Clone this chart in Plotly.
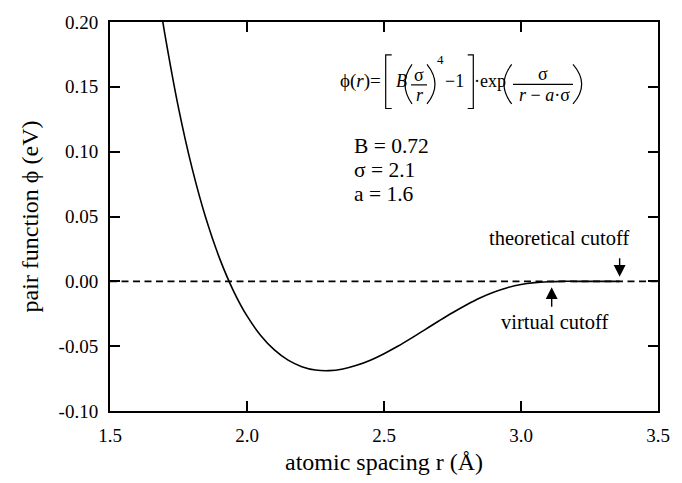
import plotly.graph_objects as go

# ---- data ----
r_values = [1.69, 1.70, 1.75, 1.80, 1.85, 1.90, 1.95, 2.00, 2.05, 2.10, 2.15, 2.20,
            2.25, 2.30, 2.35, 2.40, 2.45, 2.50, 2.55, 2.60, 2.65, 2.70, 2.75, 2.80,
            2.85, 2.90, 2.95, 3.00, 3.05, 3.10, 3.15, 3.20, 3.36]
phi_values = [0.2038, 0.1909, 0.1338, 0.0869, 0.0486, 0.0177, -0.0071, -0.0267,
              -0.0417, -0.0529, -0.0608, -0.0658, -0.0684, -0.0689, -0.0676, -0.0648,
              -0.0608, -0.0558, -0.0501, -0.0438, -0.0372, -0.0306, -0.0242, -0.0182,
              -0.0128, -0.0084, -0.0049, -0.0024, -0.0010, -0.0003, 0.0000, 0.0000, 0.0000]
zero_x = [1.5, 3.5]
zero_y = [0.0, 0.0]

x_tickvals = [1.5, 2.0, 2.5, 3.0, 3.5]
x_ticktext = ["1.5", "2.0", "2.5", "3.0", "3.5"]
y_tickvals = [-0.10, -0.05, 0.00, 0.05, 0.10, 0.15, 0.20]
y_ticktext = ["-0.10", "-0.05", "0.00", "0.05", "0.10", "0.15", "0.20"]

params = ["B = 0.72", "σ = 2.1", "a = 1.6"]
theoretical_cutoff = 3.36
virtual_cutoff = 3.112

FONT = "Liberation Serif"

# ---- layout geometry ----
W, H = 682, 483
L, R, T, B = 110, 24, 16, 68
PW, PH = W - L - R, H - T - B


def px(x):
    return (x - L) / PW


def py(y):
    return (H - B - y) / PH


fig = go.Figure()
fig.add_trace(go.Scatter(x=zero_x, y=zero_y, mode="lines",
                         line=dict(color="black", width=1.8, dash="7px,4.5px"),
                         hoverinfo="skip", showlegend=False))
fig.add_trace(go.Scatter(x=r_values, y=phi_values, mode="lines",
                         line=dict(color="black", width=1.6, shape="spline"),
                         showlegend=False))

annotations = []


def txt(s, x, y, size=16, xanchor="center"):
    annotations.append(dict(text=s, x=px(x), y=py(y), xref="paper", yref="paper",
                            xanchor=xanchor, yanchor="middle", showarrow=False,
                            font=dict(family=FONT, size=size, color="black")))


# formula
txt("ϕ(<i>r</i>)=", 360.5, 76.5, 19)
txt("<i>B</i>", 401, 77, 18)
txt("σ", 419, 70, 18)
txt("<i>r</i>", 419.5, 91, 18)
txt("4", 440.5, 54, 13)
txt("−1", 454, 77, 18)
txt("·exp", 490, 77, 18)
txt("σ", 542.5, 69, 18)
txt("<i>r</i> − <i>a</i>·σ", 544, 91, 18)

# parameters
for i, s in enumerate(params):
    txt(s, 352, 143 + i * 24.5, 21.5, xanchor="left")

# cutoff labels
txt("theoretical cutoff", 559, 237.5, 20.5)
txt("virtual cutoff", 554, 324, 20.5)

# arrows
annotations.append(dict(x=theoretical_cutoff, y=0.0035, xref="x", yref="y", ax=0, ay=-20,
                        text="", showarrow=True, arrowhead=2, arrowsize=1.7,
                        arrowwidth=1.4, arrowcolor="black"))
annotations.append(dict(x=virtual_cutoff, y=-0.0045, xref="x", yref="y", ax=0, ay=21,
                        text="", showarrow=True, arrowhead=2, arrowsize=1.7,
                        arrowwidth=1.4, arrowcolor="black"))

shapes = []


def path(d):
    shapes.append(dict(type="path", path=d, xref="paper", yref="paper",
                       line=dict(color="black", width=1.2)))


def P(x, y):
    return f"{px(x):.5f},{py(y):.5f}"


# brackets
path(f"M {P(391.7, 49.7)} L {P(385.7, 49.7)} L {P(385.7, 104.7)} L {P(391.7, 104.7)}")
path(f"M {P(467.7, 49.7)} L {P(473.3, 49.7)} L {P(473.3, 104.7)} L {P(467.7, 104.7)}")
# parentheses
path(f"M {P(412, 59.5)} Q {P(398, 80)} {P(412, 100)}")
path(f"M {P(427, 59.5)} Q {P(443, 80)} {P(427, 100)}")
path(f"M {P(511.7, 59.5)} Q {P(496.3, 80)} {P(511.7, 100)}")
path(f"M {P(573, 59.5)} Q {P(590.4, 80)} {P(573, 100)}")
# fraction bars
path(f"M {P(411, 80.5)} L {P(427, 80.5)}")
path(f"M {P(513, 80)} L {P(573, 80)}")

axis_common = dict(showgrid=False, zeroline=False, showline=True, linecolor="black",
                   linewidth=2, mirror="ticks", ticks="inside", ticklen=10,
                   tickwidth=1.5, tickcolor="black",
                   tickfont=dict(family=FONT, size=19, color="black"))

fig.update_layout(
    width=W, height=H,
    margin=dict(l=L, r=R, t=T, b=B, pad=0),
    paper_bgcolor="white", plot_bgcolor="white",
    xaxis=dict(range=[1.5, 3.5], tickvals=x_tickvals, ticktext=x_ticktext,
               ticklabelstandoff=6,
               title=dict(text="atomic spacing r (Å)", standoff=8,
                          font=dict(family=FONT, size=24, color="black")),
               **axis_common),
    yaxis=dict(range=[-0.10, 0.20], tickvals=y_tickvals, ticktext=y_ticktext,
               ticklabelstandoff=6,
               title=dict(text="pair function ϕ (eV)", standoff=13,
                          font=dict(family=FONT, size=24, color="black")),
               **axis_common),
    annotations=annotations,
    shapes=shapes,
)

fig.write_html("out.html")
